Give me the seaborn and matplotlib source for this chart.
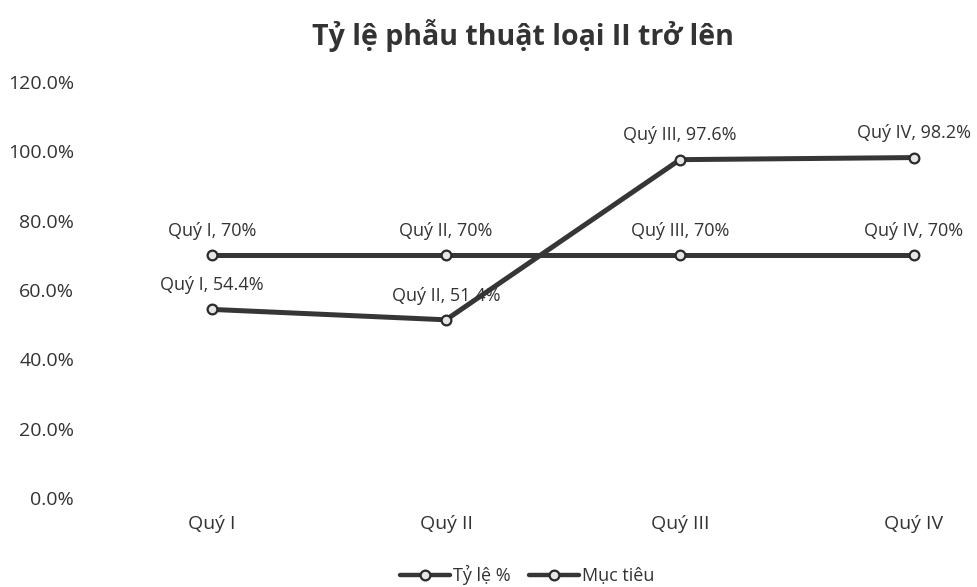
import matplotlib
matplotlib.use("Agg")
import matplotlib.pyplot as plt
import seaborn as sns
import pandas as pd
from matplotlib.ticker import PercentFormatter
from matplotlib.lines import Line2D

categories = ["Quý I", "Quý II", "Quý III", "Quý IV"]
ty_le = [0.544, 0.514, 0.976, 0.982]
muc_tieu = [0.70, 0.70, 0.70, 0.70]
ty_le_labels = ["54.4%", "51.4%", "97.6%", "98.2%"]
muc_tieu_labels = ["70%", "70%", "70%", "70%"]
series_names = ["Tỷ lệ %", "Mục tiêu"]
y_ticks = [0, 0.2, 0.4, 0.6, 0.8, 1.0, 1.2]

sns.set_theme(style="white")
plt.rcParams["font.family"] = ["Open Sans", "DejaVu Sans"]

df = pd.DataFrame({
    "x": list(range(len(categories))) * 2,
    "val": ty_le + muc_tieu,
    "series": [series_names[0]] * 4 + [series_names[1]] * 4,
})

line_color = "#363636"
fig = plt.figure(figsize=(9.78, 5.87), dpi=100)
ax = fig.add_axes([95 / 978, 1 - 498 / 587, 883 / 978, (498 - 82) / 587])

sns.lineplot(data=df, x="x", y="val", hue="series", palette=[line_color, line_color],
             marker="o", markersize=7, markerfacecolor="#e6e6e6",
             markeredgecolor="#2a2a2a", markeredgewidth=1.6,
             linewidth=3.6, sort=False, ax=ax, legend=False)

for i, (c, v, lab) in enumerate(zip(categories, ty_le, ty_le_labels)):
    ax.annotate(f"{c}, {lab}", (i, v), xytext=(0, 11), textcoords="offset points",
                ha="center", va="bottom", fontsize=13, color="#333333")
for i, (c, v, lab) in enumerate(zip(categories, muc_tieu, muc_tieu_labels)):
    ax.annotate(f"{c}, {lab}", (i, v), xytext=(0, 11), textcoords="offset points",
                ha="center", va="bottom", fontsize=13, color="#333333")

ax.set_xlim(-0.5, (978 - 212) / 234)
ax.set_ylim(0, 1.2)
ax.set_yticks(y_ticks)
ax.yaxis.set_major_formatter(PercentFormatter(1.0, decimals=1))
ax.set_xticks(range(len(categories)))
ax.set_xticklabels(categories)
ax.tick_params(axis="both", labelsize=14, colors="#333333", length=0)
ax.tick_params(axis="y", pad=15)
ax.tick_params(axis="x", pad=12)
ax.set_xlabel("")
ax.set_ylabel("")
for s in ax.spines.values():
    s.set_visible(False)
ax.grid(False)

handles = [Line2D([], [], color=line_color, lw=3.2, marker="o", markersize=7,
                  markerfacecolor="#e6e6e6", markeredgecolor="#2a2a2a",
                  markeredgewidth=1.6) for _ in series_names]
fig.legend(handles, series_names, loc="center", bbox_to_anchor=(527 / 978, 1 - 575 / 587),
           ncol=2, frameon=False, fontsize=13, handlelength=2.8, columnspacing=1.0,
           handletextpad=0.15, labelcolor="#333333")

fig.suptitle("Tỷ lệ phẫu thuật loại II trở lên", x=523 / 978, y=1 - 35 / 587, va="center",
             fontsize=20.5, fontweight="bold", color="#333333")

fig.savefig("out.png", dpi=100, facecolor="white")
